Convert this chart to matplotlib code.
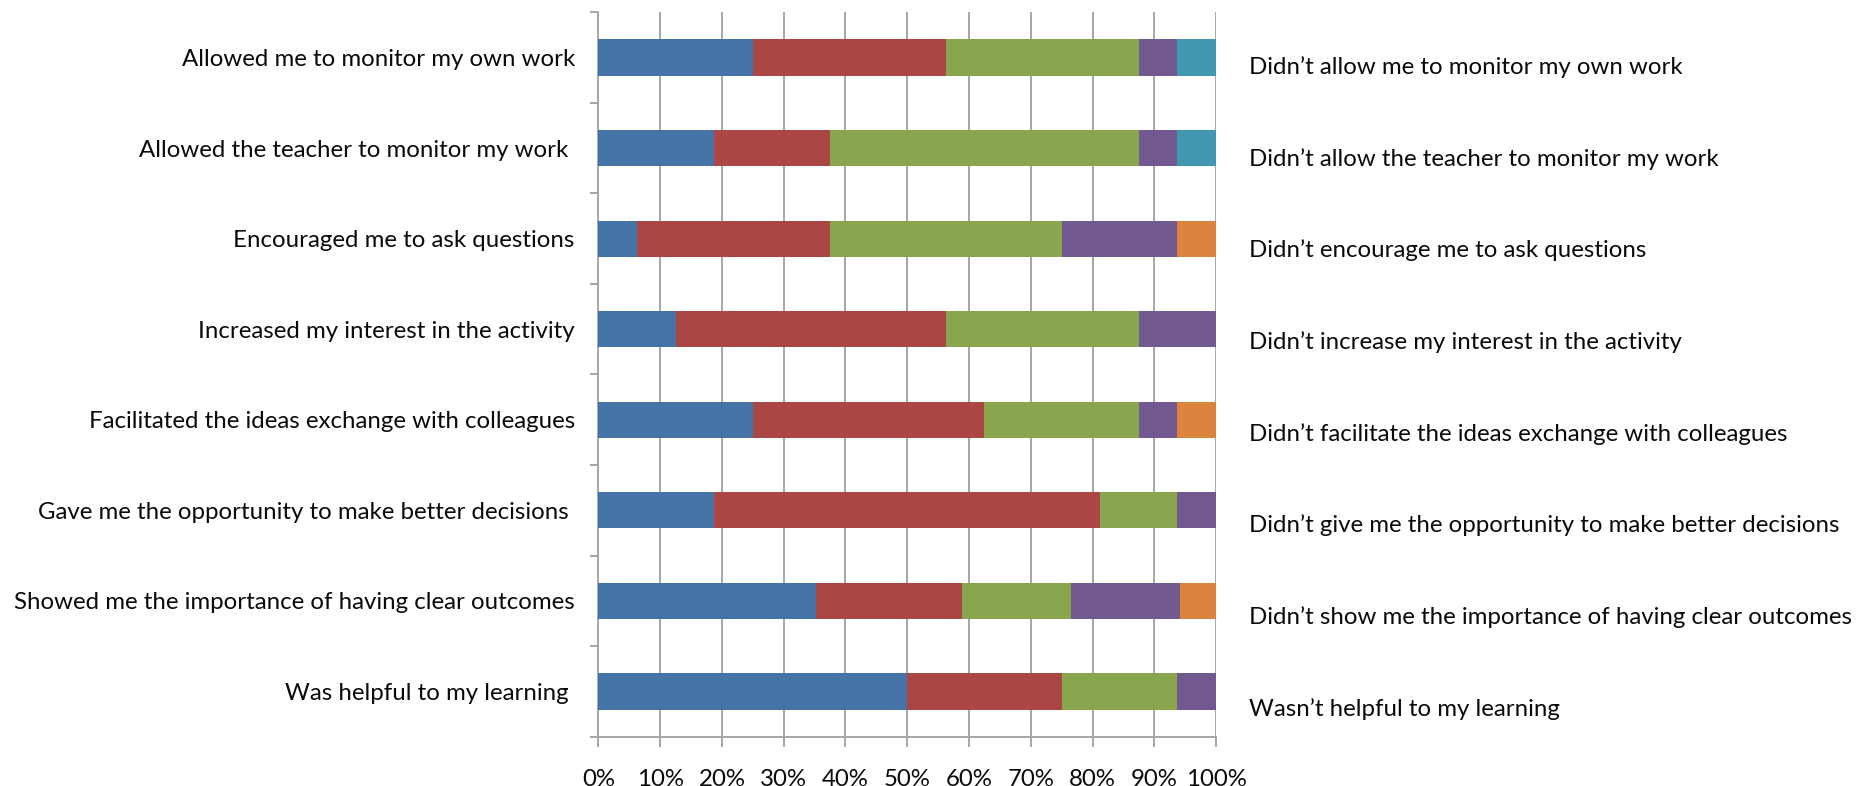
import matplotlib
matplotlib.use("Agg")
import matplotlib.pyplot as plt
import numpy as np
from matplotlib.ticker import FixedLocator, PercentFormatter

# Statements shown on the left (positive) and right (negative) of each row
positive_labels = [
    "Allowed me to monitor my own work",
    "Allowed the teacher to monitor my work ",
    "Encouraged me to ask questions",
    "Increased my interest in the activity",
    "Facilitated the ideas exchange with colleagues",
    "Gave me the opportunity to make better decisions ",
    "Showed me the importance of having clear outcomes",
    "Was helpful to my learning ",
]
negative_labels = [
    "Didn\u2019t allow me to monitor my own work",
    "Didn\u2019t allow the teacher to monitor my work",
    "Didn\u2019t encourage me to ask questions",
    "Didn\u2019t increase my interest in the activity",
    "Didn\u2019t facilitate the ideas exchange with colleagues",
    "Didn\u2019t give me the opportunity to make better decisions",
    "Didn\u2019t show me the importance of having clear outcomes",
    "Wasn\u2019t helpful to my learning",
]

# Share of answers (%) on each point of the response scale, row by row
scale_1 = [25.00, 18.75, 6.25, 12.50, 25.00, 18.75, 35.29, 50.00]
scale_2 = [31.25, 18.75, 31.25, 43.75, 37.50, 62.50, 23.53, 25.00]
scale_3 = [31.25, 50.00, 37.50, 31.25, 25.00, 12.50, 17.65, 18.75]
scale_4 = [6.25, 6.25, 18.75, 12.50, 6.25, 6.25, 17.65, 6.25]
scale_5 = [6.25, 6.25, 0.00, 0.00, 0.00, 0.00, 0.00, 0.00]
scale_6 = [0.00, 0.00, 6.25, 0.00, 6.25, 0.00, 5.88, 0.00]

x_ticks = [0, 10, 20, 30, 40, 50, 60, 70, 80, 90, 100]

series = [scale_1, scale_2, scale_3, scale_4, scale_5, scale_6]
colors = ["#4572A7", "#AA4643", "#89A54E", "#71588F", "#4198AF", "#DB843D"]

FONT = "Lato"
FS = 17.3
GRID = "#A6A6A6"
TEXT = "#0A0A0A"

fig = plt.figure(figsize=(18.62, 7.86), dpi=100)
ax = fig.add_axes([0.3214, 0.0627, 0.3317, 0.9217])

y = np.arange(len(positive_labels))
left = np.zeros(len(y))
for vals, col in zip(series, colors):
    vals = np.asarray(vals, dtype=float)
    ax.barh(y, vals, left=left, height=0.4, color=col, zorder=3, linewidth=0)
    left += vals

ax.set_xlim(0, 100)
ax.set_ylim(len(y) - 0.5, -0.5)

# vertical gridlines
ax.xaxis.set_major_locator(FixedLocator(x_ticks))
ax.xaxis.set_major_formatter(PercentFormatter(decimals=0))
ax.grid(axis="x", color=GRID, linewidth=1.4, zorder=0)
ax.set_axisbelow(True)

for s in ("top", "right"):
    ax.spines[s].set_visible(False)
for s in ("left", "bottom"):
    ax.spines[s].set_color(GRID)
    ax.spines[s].set_linewidth(1.4)

ax.tick_params(axis="x", direction="out", length=7, width=1.4, color=GRID,
               pad=16, labelsize=FS)
for t in ax.get_xticklabels():
    t.set_fontfamily(FONT)
    t.set_color(TEXT)

# category labels at row centres, tick marks at row boundaries
ax.set_yticks(y)
ax.set_yticklabels(positive_labels, fontfamily=FONT, fontsize=FS, color=TEXT)
ax.tick_params(axis="y", which="major", length=0, pad=17)
ax.set_yticks(np.arange(-0.5, len(y) + 0.5, 1.0), minor=True)
ax.tick_params(axis="y", which="minor", direction="out", length=5.5, width=1.4,
               color=GRID)

# negative statements on the right side
ax2 = ax.twinx()
ax2.set_ylim(7.325, -0.575)
ax2.set_yticks(y)
ax2.set_yticklabels(negative_labels, fontfamily=FONT, fontsize=FS, color=TEXT)
ax2.tick_params(axis="y", length=0, pad=24)
for s in ax2.spines.values():
    s.set_visible(False)

fig.savefig("out.png", dpi=100, facecolor="white")
